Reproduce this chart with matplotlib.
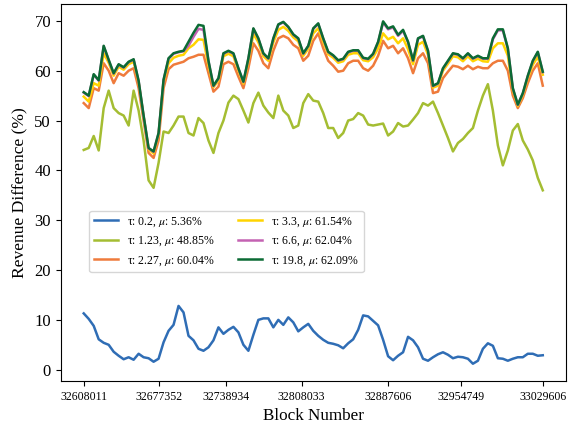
import numpy as np
import matplotlib
matplotlib.use("Agg")
import matplotlib.pyplot as plt

plt.rcParams["font.family"] = ["Liberation Serif", "DejaVu Serif"]
plt.rcParams["mathtext.fontset"] = "stix"

# sampled block range
first_block = 32608011
last_block = 33029606
tick_blocks = [32608011, 32677352, 32738934, 32808033, 32887606, 32954749, 33029606]

# revenue difference (%) per tau setting
rev_02 = [11.3, 10.2, 8.8, 6.1, 5.4, 5.0, 3.6, 2.8, 2.1, 2.5, 2.0, 3.2, 2.5, 2.3, 1.6, 2.2,
          5.5, 7.8, 9.0, 12.8, 11.5, 6.8, 5.9, 4.2, 3.8, 4.5, 5.9, 8.5, 7.2, 8.0, 8.6, 7.5,
          5.0, 3.8, 7.0, 10.0, 10.3, 10.3, 8.5, 10.0, 9.0, 10.5, 9.5, 7.7, 8.5, 9.2, 7.8, 6.8,
          6.0, 5.4, 5.2, 4.9, 4.3, 5.3, 6.1, 8.0, 10.9, 10.7, 9.8, 8.9, 6.0, 2.7, 1.9, 2.8,
          3.5, 6.6, 5.9, 4.5, 2.2, 1.8, 2.5, 3.1, 3.5, 3.0, 2.3, 2.6, 2.5, 2.2, 1.2, 1.8,
          4.2, 5.3, 4.8, 2.3, 2.2, 1.8, 2.2, 2.5, 2.5, 3.2, 3.2, 2.8, 2.9]
rev_123 = [44.1, 44.5, 46.9, 44.0, 52.5, 56.0, 52.5, 51.5, 51.0, 49.0, 56.0, 52.0, 46.0, 38.0, 36.5, 41.5,
           47.8, 47.5, 49.0, 50.8, 50.8, 47.5, 47.0, 50.5, 49.5, 46.0, 43.5, 47.5, 50.0, 53.6, 55.0, 54.3,
           52.0, 49.6, 53.5, 55.6, 53.0, 51.6, 50.5, 55.0, 52.0, 51.0, 48.5, 49.0, 53.5, 55.3, 54.0, 53.8,
           51.5, 48.5, 48.5, 46.5, 47.5, 50.0, 50.3, 51.5, 51.0, 49.2, 49.0, 49.2, 49.4, 47.0, 47.8, 49.5,
           48.8, 49.0, 50.2, 51.5, 53.5, 53.0, 53.8, 51.5, 49.0, 46.5, 43.8, 45.5, 46.3, 47.5, 48.5, 52.0,
           55.0, 57.3, 52.0, 45.0, 41.0, 44.0, 48.0, 49.3, 46.0, 44.2, 42.0, 38.5, 36.0]
rev_227 = [53.5, 52.5, 56.5, 56.0, 61.5, 60.0, 57.5, 59.5, 59.0, 60.0, 60.5, 56.5, 50.0, 43.5, 42.5, 46.0,
           56.5, 60.3, 61.2, 61.5, 61.8, 62.5, 62.8, 63.2, 63.2, 59.5, 55.8, 56.8, 61.3, 61.8, 61.3, 58.8,
           56.5, 60.5, 65.5, 64.0, 61.5, 60.5, 64.0, 66.5, 67.0, 66.5, 65.2, 64.5, 62.0, 63.0, 66.0, 67.5,
           64.5, 62.0, 61.0, 59.8, 60.0, 61.5, 62.0, 62.0, 60.5, 60.0, 61.0, 63.0, 66.0, 64.5, 65.0, 63.5,
           64.5, 62.5, 59.5, 62.5, 63.5, 61.5, 55.5, 55.8, 58.5, 59.8, 61.0, 60.8, 60.3, 61.0, 60.3, 60.8,
           60.5, 60.5, 61.5, 62.0, 62.0, 60.0, 55.0, 52.5, 54.5, 57.5, 60.0, 61.5, 57.0]
rev_33 = [54.8, 53.8, 57.5, 57.0, 63.5, 61.6, 59.0, 60.8, 60.2, 61.3, 61.8, 57.6, 50.7, 44.2, 43.4, 47.1,
          57.7, 61.5, 62.6, 63.0, 63.2, 64.5, 65.2, 66.3, 66.2, 61.0, 56.7, 58.0, 62.9, 63.4, 62.9, 60.0,
          57.4, 61.9, 67.4, 65.7, 62.9, 62.0, 65.7, 68.2, 68.8, 68.0, 66.7, 65.9, 63.0, 64.4, 67.5, 68.5,
          65.8, 63.3, 62.6, 61.6, 61.9, 63.2, 63.5, 63.5, 62.1, 61.9, 62.7, 64.5, 67.5, 66.3, 66.8, 65.5,
          66.5, 64.3, 61.3, 65.2, 65.8, 63.2, 56.6, 57.0, 60.0, 61.4, 62.9, 62.7, 61.9, 62.9, 61.9, 62.4,
          61.9, 61.8, 64.5, 65.5, 65.5, 63.0, 56.0, 52.9, 55.1, 58.5, 61.2, 62.8, 59.2]
rev_66 = [55.6, 54.9, 59.2, 58.0, 64.9, 62.1, 59.4, 61.2, 60.6, 61.7, 62.2, 57.9, 50.9, 44.4, 43.7, 47.4,
          58.1, 62.4, 63.4, 63.7, 63.9, 65.0, 66.8, 68.4, 68.2, 61.9, 56.9, 58.4, 63.4, 63.9, 63.4, 60.4,
          57.7, 62.4, 68.4, 66.4, 63.4, 62.4, 66.4, 69.2, 69.7, 68.7, 67.2, 66.4, 63.4, 64.9, 68.4, 69.4,
          66.4, 63.7, 63.0, 62.0, 62.3, 63.7, 64.0, 64.0, 62.5, 62.3, 63.3, 65.7, 69.7, 68.3, 68.7, 67.0,
          68.0, 65.7, 62.0, 66.4, 66.9, 63.9, 56.9, 57.4, 60.4, 61.9, 63.4, 63.2, 62.4, 63.4, 62.4, 62.9,
          62.4, 62.4, 66.3, 68.1, 68.1, 64.4, 56.4, 53.1, 55.4, 58.9, 61.9, 63.7, 59.7]
rev_198 = [55.7, 55.0, 59.3, 58.1, 65.0, 62.2, 59.5, 61.3, 60.7, 61.8, 62.3, 58.0, 51.0, 44.5, 43.8, 47.5,
           58.2, 62.5, 63.5, 63.8, 64.0, 65.8, 67.6, 69.2, 69.0, 62.0, 57.0, 58.5, 63.5, 64.0, 63.5, 60.5,
           57.8, 62.5, 68.5, 66.5, 63.5, 62.5, 66.5, 69.3, 69.8, 68.8, 67.3, 66.5, 63.5, 65.0, 68.5, 69.5,
           66.5, 63.8, 63.1, 62.1, 62.4, 63.8, 64.1, 64.1, 62.6, 62.4, 63.4, 65.8, 69.9, 68.5, 68.9, 67.2,
           68.2, 65.8, 62.1, 66.5, 67.0, 64.0, 57.0, 57.5, 60.5, 62.0, 63.5, 63.3, 62.5, 63.5, 62.5, 63.0,
           62.5, 62.5, 66.5, 68.3, 68.3, 64.5, 56.5, 53.2, 55.5, 59.0, 62.0, 63.8, 59.8]

labels = ["τ: 0.2, $\\mu$: 5.36%", "τ: 1.23, $\\mu$: 48.85%", "τ: 2.27, $\\mu$: 60.04%",
          "τ: 3.3, $\\mu$: 61.54%", "τ: 6.6, $\\mu$: 62.04%", "τ: 19.8, $\\mu$: 62.09%"]
colors = ["#2f6db5", "#a4bd32", "#ef7b3c", "#ffd400", "#c462b2", "#0b6b34"]
series = [rev_02, rev_123, rev_227, rev_33, rev_66, rev_198]

blocks = np.linspace(first_block, last_block, len(rev_02))

fig = plt.figure(figsize=(5.68, 4.26), dpi=100)
ax = fig.add_axes([0.107, 0.106, 0.889, 0.884])

for vals, c, lab in zip(series, colors, labels):
    ax.plot(blocks, vals, color=c, lw=1.8, label=lab)

ax.set_xticks(tick_blocks)
ax.set_xticklabels([str(b) for b in tick_blocks], fontsize=8.5)
ax.tick_params(axis="y", labelsize=12)
ax.set_xlabel("Block Number", fontsize=12.3)
ax.set_ylabel("Revenue Difference (%)", fontsize=12.6)

ax.legend(ncol=2, fontsize=8.5, loc="upper left", bbox_to_anchor=(0.045, 0.468))

plt.savefig("out.png", dpi=100)
